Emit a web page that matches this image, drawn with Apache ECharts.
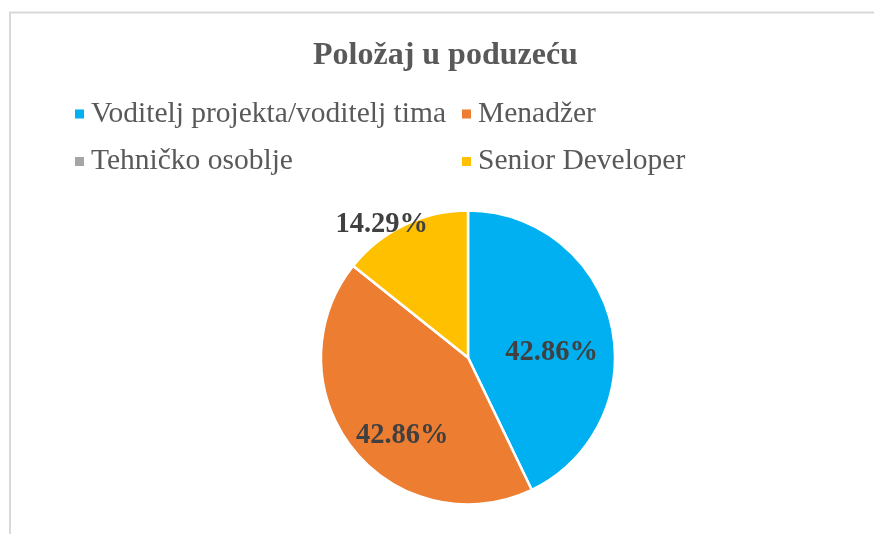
<!DOCTYPE html>
<html>
<head>
<meta charset="utf-8">
<style>
  html, body { margin: 0; padding: 0; background: #fff; }
  #chart { width: 874px; height: 534px; }
</style>
<script src="https://cdn.jsdelivr.net/npm/echarts@6/dist/echarts.min.js"></script>
</head>
<body>
<div id="chart"></div>
<script>
const titleText = 'Položaj u poduzeću';
const categories = ['Voditelj projekta/voditelj tima', 'Menadžer', 'Tehničko osoblje', 'Senior Developer'];
const counts = [3, 3, 0, 1];
const colors = ['#00B0F0', '#ED7D31', '#A5A5A5', '#FFC000'];
// label nudges from the 'inside' spot, to sit where the original puts them
const labelOffsets = [[9, 12], [-6, 30], [0, 0], [-53, -64]];

const total = counts.reduce((a, b) => a + b, 0);
const serif = "'Liberation Serif', 'Times New Roman', serif";
const chart = echarts.init(document.getElementById('chart'));

const legendText = { fontFamily: serif, fontSize: 29.5, color: '#595959', lineHeight: 29.5, padding: [0, 0, 0, 1] };

chart.setOption({
  backgroundColor: '#fff',
  animation: false,
  color: colors,
  graphic: [{
    type: 'rect',
    shape: { x: 10, y: 12.5, width: 1000, height: 1000 },
    style: { fill: 'none', stroke: '#d9d9d9', lineWidth: 2 },
    silent: true,
  }],
  title: {
    text: titleText,
    left: 313,
    top: 40,
    padding: 0,
    textStyle: { fontFamily: serif, fontSize: 32, fontWeight: 'bold', color: '#595959', lineHeight: 32 },
  },
  legend: [
    {
      data: [categories[0], categories[2]],
      orient: 'vertical',
      left: 73,
      top: 99,
      padding: 0,
      itemGap: 17.5,
      itemWidth: 11,
      itemHeight: 11,
      icon: 'rect',
      selectedMode: false,
      textStyle: legendText,
    },
    {
      data: [categories[1], categories[3]],
      orient: 'vertical',
      left: 460,
      top: 99,
      padding: 0,
      itemGap: 17.5,
      itemWidth: 11,
      itemHeight: 11,
      icon: 'rect',
      selectedMode: false,
      textStyle: legendText,
    },
  ],
  series: [{
    type: 'pie',
    center: [468, 357.5],
    radius: 147,
    startAngle: 90,
    clockwise: true,
    avoidLabelOverlap: false,
    itemStyle: { borderColor: '#fff', borderWidth: 2.5 },
    emphasis: { disabled: true },
    labelLine: { show: false },
    label: {
      show: true,
      position: 'inside',
      fontFamily: serif,
      fontSize: 28.5,
      fontWeight: 'bold',
      color: '#404040',
      formatter: (p) => (p.value / total * 100).toFixed(2) + '%',
    },
    data: categories.map((name, i) => ({
      name,
      value: counts[i],
      label: { show: counts[i] > 0, offset: labelOffsets[i] },
    })),
  }],
});
</script>
</body>
</html>
